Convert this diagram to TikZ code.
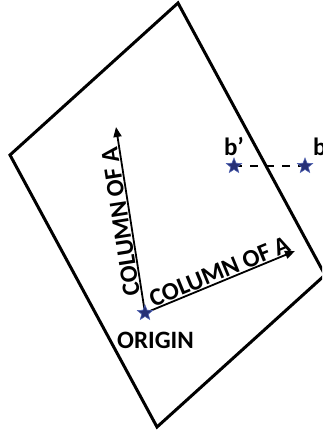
\documentclass[tikz,border=0pt]{standalone}
\usepackage{fontspec}
\setmainfont{Carlito}
\usepackage{xcolor}
\usepackage{tikz}
\usetikzlibrary{shapes.geometric, arrows.meta, positioning, calc}
\definecolor{StarFill}{RGB}{38, 48, 118}
\definecolor{StarEdge}{RGB}{82, 100, 178}

\tikzset{
  starpt/.style={star, star points=5, star point ratio=2.3, inner sep=0pt,
    minimum size=16pt, fill=StarFill, draw=StarEdge, line width=0.6pt},
  vecarrow/.style={line width=1.8pt, -{Triangle[length=10pt, width=8pt]}},
  txtlbl/.style={font=\fontsize{25}{27}\selectfont\bfseries, inner sep=1.5pt}
}

\begin{document}
\begin{tikzpicture}[x=1pt, y=-1pt]
    \useasboundingbox (0,0) rectangle (322,435);
    \clip (0,0) rectangle (322,435);

    % the plane spanned by the columns
    \draw[line width=3pt, line join=miter]
      (178,3) -- (10,155) -- (157,427) -- (325,275) -- cycle;

    \coordinate (colone) at (116,127);
    \coordinate (coltwo) at (295,251);

    \draw[vecarrow] (145,313) -- (colone);
    \draw[vecarrow] (145,313) -- (coltwo);
    \draw[line width=1.6pt, dash pattern=on 8pt off 8pt] (234,166) -- (305,166);

    \node[starpt] (origin) at (145,313) {};
    \node[starpt] (bproj) at (234,166) {};
    \node[starpt] (bvec) at (305,166) {};

    \path (origin) -- (coltwo) node[txtlbl, midway, sloped, above] {COLUMN OF A};
    \node[txtlbl, rotate=98.9, anchor=south] at ($(origin)!0.5!(colone)$) {COLUMN OF A};

    \node[txtlbl, anchor=center] (originlbl) at (155.5,340.5) {ORIGIN};
    \node[txtlbl, above=0pt of bproj] (bprojlbl) {b’};
    \node[txtlbl, anchor=base west, inner sep=0pt] (bveclbl) at ($(bvec)+(8,-10)$) {b};
  \end{tikzpicture}
\end{document}
